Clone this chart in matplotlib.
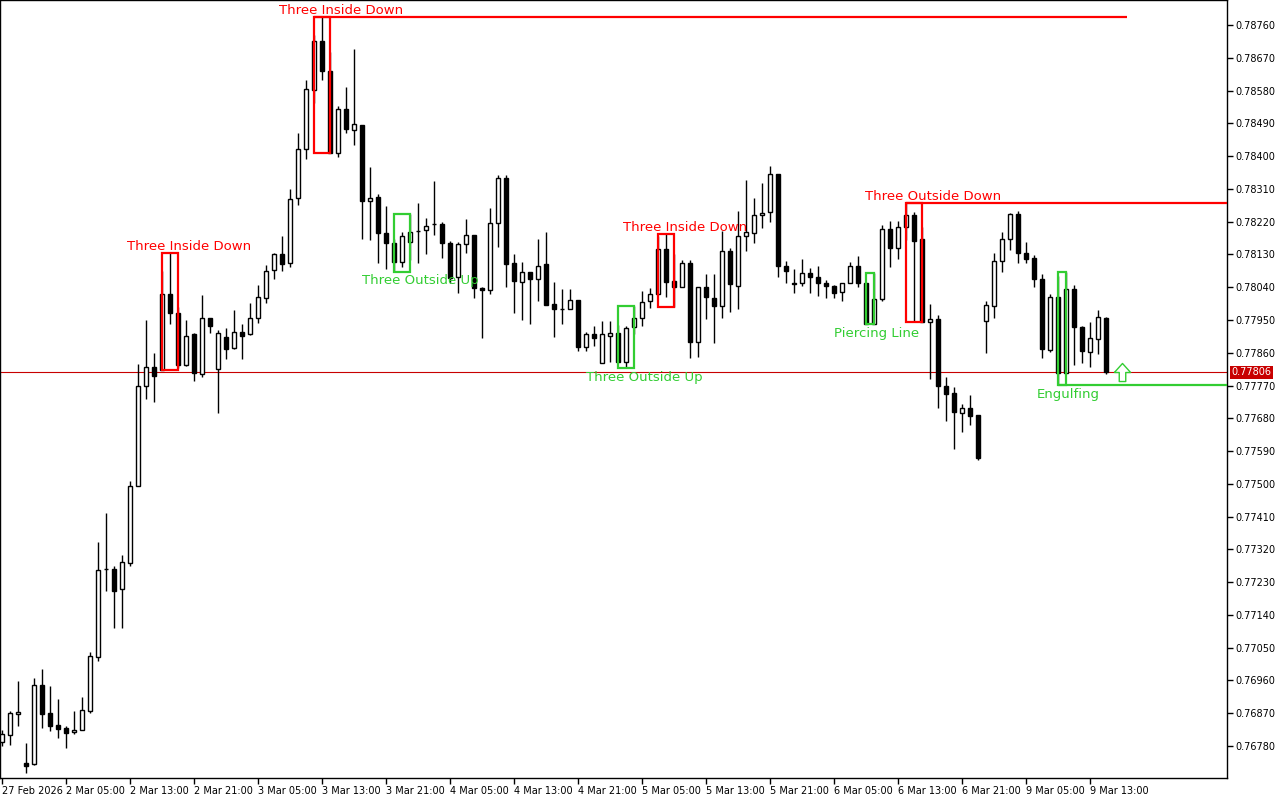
import numpy as np
import matplotlib.pyplot as plt
from matplotlib.path import Path
from matplotlib.patches import Rectangle
from matplotlib.transforms import blended_transform_factory

# hourly candles, 27 Feb 2026 .. 9 Mar 2026
opens = [
    0.76791, 0.76810, 0.76868, 0.76733, 0.76731, 0.76947, 0.76870, 0.76838, 0.76829, 0.76818,
    0.76824, 0.76876, 0.77024, 0.77266, 0.77266, 0.77211, 0.77282, 0.77494, 0.77769, 0.77821,
    0.77812, 0.78021, 0.77969, 0.77826, 0.77911, 0.77802, 0.77955, 0.77815, 0.77903, 0.77873,
    0.77917, 0.77911, 0.77955, 0.78010, 0.78087, 0.78131, 0.78106, 0.78285, 0.78419, 0.78581,
    0.78716, 0.78634, 0.78408, 0.78529, 0.78472, 0.78485, 0.78277, 0.78288, 0.78189, 0.78161,
    0.78109, 0.78164, 0.78194, 0.78197, 0.78213, 0.78213, 0.78161, 0.78068, 0.78159, 0.78183,
    0.78037, 0.78032, 0.78216, 0.78340, 0.78106, 0.78054, 0.78082, 0.78062, 0.78104, 0.77994,
    0.77980, 0.77980, 0.78005, 0.77876, 0.77911, 0.77832, 0.77906, 0.77914, 0.77834, 0.77931,
    0.77955, 0.78002, 0.78021, 0.78145, 0.78057, 0.78040, 0.78106, 0.77889, 0.78040, 0.78010,
    0.77988, 0.78139, 0.78043, 0.78180, 0.78189, 0.78238, 0.78246, 0.78351, 0.78098, 0.78051,
    0.78051, 0.78079, 0.78068, 0.78051, 0.78043, 0.78027, 0.78051, 0.78098, 0.78051, 0.77939,
    0.78007, 0.78200, 0.78148, 0.78205, 0.78238, 0.78172, 0.77944, 0.77953, 0.77769, 0.77749,
    0.77694, 0.77708, 0.77689, 0.77947, 0.77988, 0.78112, 0.78172, 0.78241, 0.78134, 0.78120,
    0.78062, 0.77867, 0.78013, 0.77804, 0.78035, 0.77931, 0.77862, 0.77898, 0.77955,
]
highs = [
    0.76824, 0.76876, 0.76958, 0.76788, 0.76967, 0.76991, 0.76944, 0.76909, 0.76835, 0.76876,
    0.76914, 0.77038, 0.77340, 0.77420, 0.77274, 0.77304, 0.77508, 0.77829, 0.77950, 0.77859,
    0.78084, 0.78134, 0.77986, 0.77950, 0.77914, 0.78018, 0.77955, 0.77922, 0.77928, 0.77977,
    0.77939, 0.77997, 0.78046, 0.78101, 0.78133, 0.78180, 0.78310, 0.78463, 0.78609, 0.78733,
    0.78782, 0.78686, 0.78538, 0.78590, 0.78694, 0.78485, 0.78370, 0.78296, 0.78263, 0.78172,
    0.78191, 0.78241, 0.78271, 0.78230, 0.78332, 0.78219, 0.78167, 0.78164, 0.78227, 0.78183,
    0.78040, 0.78257, 0.78348, 0.78348, 0.78131, 0.78109, 0.78082, 0.78172, 0.78191, 0.78054,
    0.78035, 0.78035, 0.78005, 0.77917, 0.77933, 0.77947, 0.77947, 0.77936, 0.77933, 0.77988,
    0.78029, 0.78037, 0.78180, 0.78186, 0.78131, 0.78115, 0.78115, 0.78040, 0.78076, 0.78076,
    0.78194, 0.78148, 0.78249, 0.78334, 0.78285, 0.78326, 0.78373, 0.78351, 0.78112, 0.78090,
    0.78117, 0.78093, 0.78098, 0.78060, 0.78046, 0.78051, 0.78109, 0.78126, 0.78051, 0.78079,
    0.78211, 0.78222, 0.78222, 0.78271, 0.78246, 0.78205, 0.77994, 0.77964, 0.77793, 0.77766,
    0.77719, 0.77744, 0.77689, 0.78002, 0.78134, 0.78191, 0.78244, 0.78249, 0.78164, 0.78128,
    0.78076, 0.78021, 0.78071, 0.78082, 0.78046, 0.77933, 0.77944, 0.77977, 0.77958,
]
lows = [
    0.76780, 0.76783, 0.76835, 0.76706, 0.76728, 0.76829, 0.76821, 0.76802, 0.76774, 0.76813,
    0.76824, 0.76870, 0.77013, 0.77206, 0.77103, 0.77103, 0.77274, 0.77494, 0.77733, 0.77725,
    0.77812, 0.77939, 0.77818, 0.77823, 0.77782, 0.77793, 0.77914, 0.77694, 0.77843, 0.77870,
    0.77843, 0.77909, 0.77942, 0.77997, 0.78062, 0.78084, 0.78095, 0.78266, 0.78392, 0.78546,
    0.78609, 0.78408, 0.78397, 0.78463, 0.78430, 0.78172, 0.78170, 0.78106, 0.78090, 0.78082,
    0.78095, 0.78115, 0.78106, 0.78131, 0.78183, 0.78120, 0.78051, 0.78024, 0.78134, 0.78010,
    0.77900, 0.78021, 0.78150, 0.78040, 0.77969, 0.77950, 0.77939, 0.78002, 0.77991, 0.77903,
    0.77939, 0.77980, 0.77865, 0.77865, 0.77878, 0.77832, 0.77834, 0.77834, 0.77818, 0.77911,
    0.77933, 0.77983, 0.78021, 0.78013, 0.77986, 0.78040, 0.77845, 0.77848, 0.77953, 0.77887,
    0.77955, 0.77972, 0.77980, 0.78139, 0.78161, 0.78202, 0.78219, 0.78068, 0.78051, 0.78024,
    0.78043, 0.78024, 0.78016, 0.78010, 0.78010, 0.78002, 0.78051, 0.78040, 0.77939, 0.77939,
    0.78002, 0.78095, 0.78117, 0.78170, 0.77947, 0.77944, 0.77788, 0.77708, 0.77672, 0.77596,
    0.77642, 0.77661, 0.77565, 0.77859, 0.77955, 0.78082, 0.78142, 0.78106, 0.78106, 0.78040,
    0.77845, 0.77862, 0.77771, 0.77804, 0.77826, 0.77832, 0.77821, 0.77856, 0.77802,
]
closes = [
    0.76813, 0.76870, 0.76873, 0.76725, 0.76947, 0.76868, 0.76835, 0.76827, 0.76816, 0.76824,
    0.76879, 0.77027, 0.77263, 0.77266, 0.77206, 0.77285, 0.77494, 0.77769, 0.77821, 0.77796,
    0.78021, 0.77969, 0.77826, 0.77906, 0.77804, 0.77955, 0.77933, 0.77914, 0.77870, 0.77917,
    0.77906, 0.77955, 0.78013, 0.78084, 0.78131, 0.78104, 0.78282, 0.78419, 0.78584, 0.78716,
    0.78634, 0.78408, 0.78529, 0.78474, 0.78488, 0.78277, 0.78285, 0.78189, 0.78161, 0.78109,
    0.78180, 0.78191, 0.78194, 0.78208, 0.78213, 0.78161, 0.78065, 0.78159, 0.78183, 0.78037,
    0.78032, 0.78216, 0.78340, 0.78104, 0.78057, 0.78082, 0.78062, 0.78098, 0.77991, 0.77980,
    0.77980, 0.78005, 0.77876, 0.77911, 0.77900, 0.77911, 0.77914, 0.77834, 0.77928, 0.77955,
    0.77999, 0.78021, 0.78145, 0.78054, 0.78040, 0.78106, 0.77889, 0.78040, 0.78013, 0.77988,
    0.78139, 0.78049, 0.78180, 0.78191, 0.78238, 0.78244, 0.78351, 0.78098, 0.78084, 0.78049,
    0.78079, 0.78068, 0.78051, 0.78043, 0.78024, 0.78051, 0.78098, 0.78051, 0.77939, 0.78007,
    0.78200, 0.78148, 0.78205, 0.78238, 0.78167, 0.77944, 0.77953, 0.77769, 0.77747, 0.77697,
    0.77708, 0.77686, 0.77571, 0.77991, 0.78112, 0.78172, 0.78241, 0.78134, 0.78117, 0.78062,
    0.77870, 0.78013, 0.77804, 0.78035, 0.77931, 0.77865, 0.77900, 0.77958, 0.77806,
]

x_labels = ['27 Feb 2026', '2 Mar 05:00', '2 Mar 13:00', '2 Mar 21:00', '3 Mar 05:00',
            '3 Mar 13:00', '3 Mar 21:00', '4 Mar 05:00', '4 Mar 13:00', '4 Mar 21:00',
            '5 Mar 05:00', '5 Mar 13:00', '5 Mar 21:00', '6 Mar 05:00', '6 Mar 13:00',
            '6 Mar 21:00', '9 Mar 05:00', '9 Mar 13:00']
y_ticks = [0.78760, 0.78670, 0.78580, 0.78490, 0.78400, 0.78310, 0.78220, 0.78130,
           0.78040, 0.77950, 0.77860, 0.77770, 0.77680, 0.77590, 0.77500, 0.77410,
           0.77320, 0.77230, 0.77140, 0.77050, 0.76960, 0.76870, 0.76780]

# name, first bar, last bar, bullish?
patterns = [
    ('Three Inside Down', 20, 22, False),
    ('Three Inside Down', 39, 41, False),
    ('Three Outside Up', 49, 51, True),
    ('Three Outside Up', 77, 79, True),
    ('Three Inside Down', 82, 84, False),
    ('Piercing Line', 108, 109, True),
    ('Three Outside Down', 113, 115, False),
    ('Engulfing', 132, 133, True),
]

RED = '#FF0000'
GREEN = '#32CD32'
n = len(closes)
x = np.arange(n)
o = np.array(opens); h = np.array(highs); l = np.array(lows); c = np.array(closes)

fig = plt.figure(figsize=(12.8, 8), dpi=100)
ax = fig.add_axes([0, 22 / 800, 1227 / 1280, 778 / 800])

# wicks then bodies
ax.vlines(x, l, h, color='black', lw=1, zorder=2)
up = c >= o
bottoms = np.minimum(o, c)
heights = np.abs(c - o)
ax.bar(x[up], heights[up], bottom=bottoms[up], width=0.5, color='white',
       edgecolor='black', lw=1, zorder=3)
ax.bar(x[~up], heights[~up], bottom=bottoms[~up], width=0.5, color='black',
       edgecolor='black', lw=1, zorder=3)

# pattern boxes and labels
for name, s, e, bull in patterns:
    col = GREEN if bull else RED
    top = h[s:e + 1].max()
    bot = l[s:e + 1].min()
    ax.add_patch(Rectangle((s, bot), e - s, top - bot, fill=False, ec=col, lw=1.6, zorder=4))
    lx = s + (3.3 if e - s == 2 else 1.25)
    if bull:
        ax.annotate(name, (lx, bot), xytext=(0, -6.5), textcoords='offset points',
                    ha='center', va='center', color=col, fontsize=9.5)
    else:
        ax.annotate(name, (lx, top), xytext=(0, 4.5), textcoords='offset points',
                    ha='center', va='center', color=col, fontsize=9.5)

# level lines from some patterns
ax.hlines(h[39:42].max(), 39, n + 1.6, color=RED, lw=1.6, zorder=4)
ax.hlines(h[113:116].max(), 113, 160, color=RED, lw=1.6, zorder=4)
ax.hlines(l[132:134].min(), 132, 160, color=GREEN, lw=1.6, zorder=4)

# current price line + tag
ax.axhline(c[-1], color='#C80000', lw=0.8, zorder=1)
ax.annotate(f'{c[-1]:.5f}', xy=(1, c[-1]), xycoords=blended_transform_factory(ax.transAxes, ax.transData),
            xytext=(3, 0), textcoords='offset points', ha='left', va='center',
            color='white', fontsize=7, annotation_clip=False,
            bbox=dict(boxstyle='square,pad=0.15', fc='#C80000', ec='none'))

# up arrow signal
arrow = Path([(-0.45, 0.0), (0, 0.5), (0.45, 0.0), (0.18, 0.0), (0.18, -0.5),
              (-0.18, -0.5), (-0.18, 0.0), (-0.45, 0.0)])
ax.plot(n + 1, c[-1], marker=arrow, ms=13, mfc='white', mec=GREEN, mew=1, zorder=5)

ax.set_xlim(-0.29, 153.09)
ax.set_ylim(0.76692, 0.78829)
ax.set_xticks(x[::8][:len(x_labels)])
ax.set_xticklabels(x_labels, ha='left', fontsize=7)
ax.set_yticks(y_ticks)
ax.set_yticklabels([f'{v:.5f}' for v in y_ticks], fontsize=7)
ax.yaxis.tick_right()
ax.tick_params(axis='both', direction='out', length=4, width=1, pad=2, colors='black')
for sp in ax.spines.values():
    sp.set_linewidth(1)
    sp.set_color('black')

plt.savefig('out.png', dpi=100)
